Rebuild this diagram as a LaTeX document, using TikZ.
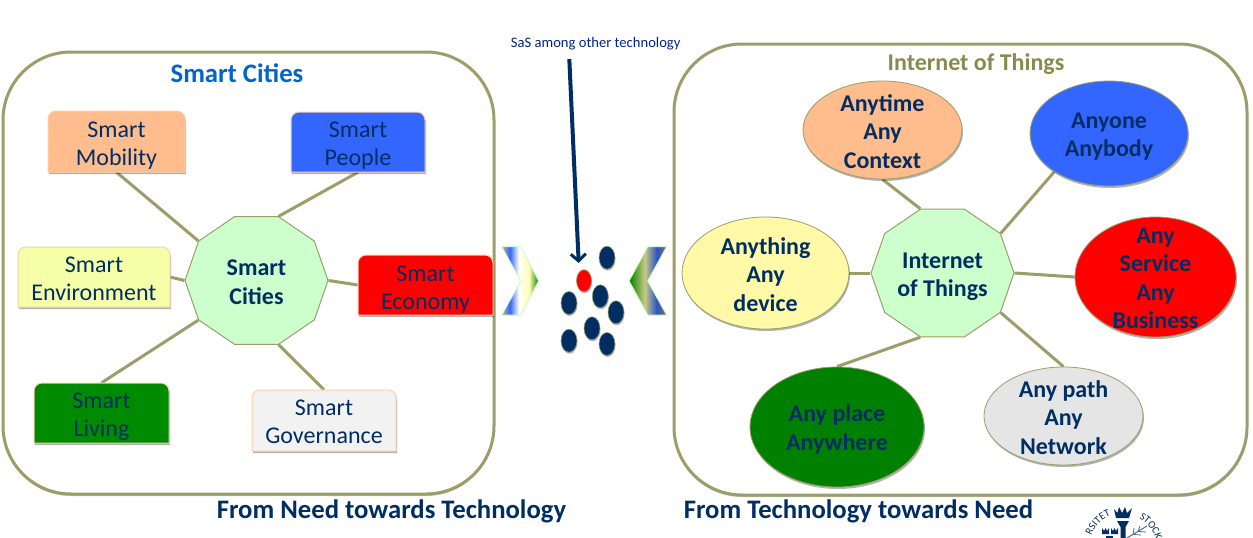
\documentclass[tikz,border=0pt]{standalone}
\usepackage{fontspec}
\setmainfont{Carlito}
\usetikzlibrary{shapes.geometric,shadows,backgrounds,arrows.meta,decorations.text}

\definecolor{navy}{HTML}{002E63}
\definecolor{olive}{HTML}{9A9F6A}
\definecolor{titleolive}{HTML}{8A8A50}
\definecolor{titleblue}{HTML}{0066CC}
\definecolor{hubgreen}{HTML}{CCFFCC}
\definecolor{peach}{HTML}{FFBC8C}
\definecolor{royal}{HTML}{3366FF}
\definecolor{edgepeach}{HTML}{FBCFAE}
\definecolor{paleyellow}{HTML}{F4FFA8}
\definecolor{creamyellow}{HTML}{FFF9A8}

% Gradients of the two chevrons
\pgfdeclarehorizontalshading{chevron_right}{100bp}{color(0bp)=(peach!70!gray); color(25bp)=(peach!70!gray); color(36bp)=(royal); color(48bp)=(white); color(62bp)=(yellow!30); color(75bp)=(green!50!black); color(100bp)=(green!50!black)}
\pgfdeclarehorizontalshading{chevron_left}{100bp}{color(0bp)=(green!50!black); color(25bp)=(green!50!black); color(46bp)=(gray!60!yellow!70); color(62bp)=(royal!80!black); color(75bp)=(peach!60!black); color(100bp)=(peach!60!black)}

\tikzset{
    panel/.style={draw=olive, line width=3pt, fill=white, rounded corners=68pt,
        drop shadow={shadow xshift=0pt, shadow yshift=-2pt, opacity=.25, fill=black}},
    link/.style={draw=olive, line width=3pt},
    boxshape/.style={draw=edgepeach, line width=1pt,
        drop shadow={shadow xshift=1pt, shadow yshift=-2pt, opacity=.3, fill=black}},
    boxtext/.style={inner sep=0pt, align=center, text=navy,
        font=\fontsize{24}{28}\selectfont},
    bubble/.style={ellipse, draw=olive, line width=.8pt, inner sep=0pt,
        drop shadow={shadow xshift=1pt, shadow yshift=-2pt, opacity=.3, fill=black}},
    bubbletext/.style={inner sep=0pt, align=center, text=navy, yshift=-1.5pt,
        font=\fontsize{24}{28.5}\selectfont\bfseries},
    hubshape/.style={regular polygon, regular polygon sides=10, draw=olive, line width=1pt,
        fill=hubgreen, inner sep=0pt, minimum size=143pt, yscale=.9376, transform shape},
    dot/.style={ellipse, draw=olive, line width=.6pt, fill=navy, inner sep=0pt,
        minimum width=16pt, minimum height=23pt,
        drop shadow={shadow xshift=.5pt, shadow yshift=-1.5pt, opacity=.3, fill=black}},
    chevron/.style={draw=hubgreen, line width=1pt},
    heading/.style={inner sep=0pt, font=\fontsize{26.7}{30}\selectfont\bfseries, text=navy},
    crest/.style={fill=navy, draw=none}
}

% name, left, top, right, bottom, colour, text, text shift
\newcommand{\smartbox}[8]{
    \path[boxshape, fill=#6] (#2,#5) [rounded corners=8pt] -- (#2,#3) -- (#4,#3) [sharp corners] -- (#4,#5) -- cycle;
    \node[inner sep=0pt, minimum width={(#4-#2)*1pt}, minimum height={(#5-#3)*1pt},
        label={[boxtext, yshift=-#8pt]center:#7}] (#1) at ({(#2+#4)/2},{(#3+#5)/2}) {};
}

\begin{document}
\begin{tikzpicture}[x=1pt, y=-1pt]
    \useasboundingbox (0,0) rectangle (1253,538);

    % Panels
    \begin{scope}[on background layer]
        \path[panel] (3,52) rectangle (494,494);
        \path[panel] (674,44) rectangle (1247,495);
    \end{scope}

    % Left boxes
    \smartbox{mobility}{48}{111}{185}{172}{peach}{Smart\\Mobility}{4}
    \smartbox{people}{291}{112}{425}{172}{royal}{Smart\\People}{4}
    \smartbox{environment}{18}{247}{170}{307}{paleyellow}{Smart\\Environment}{2}
    \smartbox{economy}{358}{255}{493}{315}{red}{Smart\\Economy}{4.5}
    \smartbox{living}{34}{383}{169}{443}{green!54!black}{Smart\\Living}{4}
    \smartbox{governance}{252}{390}{396}{451}{gray!10}{Smart\\Governance}{1.5}
    \node[hubshape] (cities_hub) at (256.5,280.5) {};
    \node[bubbletext] (cities_text) at (cities_hub) {Smart\\Cities};

    % Right bubbles
    \node[bubble, fill=peach, minimum width=159pt, minimum height=98pt,
        label={[bubbletext]center:Anytime\\Any\\Context}] (anytime) at (882.5,130) {};
    \node[bubble, fill=royal, minimum width=158pt, minimum height=105pt,
        label={[bubbletext, yshift=-1.5pt]center:Anyone\\Anybody}] (anyone) at (1109,133.5) {};
    \node[bubble, fill=creamyellow, minimum width=167pt, minimum height=112pt,
        label={[bubbletext]center:Anything\\Any\\device}] (anything) at (765.5,273) {};
    \node[bubble, fill=red, minimum width=161pt, minimum height=120pt,
        label={[bubbletext]center:Any\\Service\\Any\\Business}] (service) at (1155.5,277) {};
    \node[bubble, fill=green!50!black, minimum width=174pt, minimum height=120pt,
        label={[bubbletext, yshift=-1pt]center:Any place\\Anywhere}] (place) at (837,427) {};
    \node[bubble, fill=gray!20, minimum width=159pt, minimum height=98pt,
        label={[bubbletext]center:Any path\\Any\\Network}] (path) at (1063.5,416) {};
    \node[hubshape] (things_hub) at (942.5,273) {};
    \node[bubbletext, yshift=-2pt] (things_text) at (things_hub) {Internet\\of Things};

    % Links
    \begin{scope}[on background layer]
        \draw[link] (mobility.south) -- (cities_hub.144);
        \draw[link] (people.south) -- (cities_hub.72);
        \draw[link] (environment.east) -- (cities_hub.180);
        \draw[link] (economy.west) -- (cities_hub.0);
        \draw[link] (living.north) -- (cities_hub.216);
        \draw[link] (governance.north) -- (cities_hub.288);
        \draw[link] (anytime.south) -- (things_hub.108);
        \draw[link] (anyone.215) -- (things_hub.36);
        \draw[link] (anything.east) -- (things_hub.180);
        \draw[link] (service.west) -- (things_hub.0);
        \draw[link] (place.north) -- (things_hub.252);
        \draw[link] (path.north) -- (things_hub.324);
    \end{scope}

    % Chevrons
    \path[chevron, shading=chevron_right] (501.7,246.7) -- (520.7,246.7) -- (538.7,281) -- (520.7,315) -- (501.7,315) -- (520.7,281) -- cycle;
    \path[chevron, shading=chevron_left] (629,281) -- (647.7,246.7) -- (666.7,246.7) -- (647.7,281) -- (666.7,315) -- (647.7,315) -- cycle;

    % Dots
    \node[dot, fill=red, minimum width=15pt, minimum height=22pt] (red_dot) at (584,280.7) {};
    \node[dot] (dot_a) at (607,257.7) {};
    \node[dot] (dot_b) at (600.3,296.3) {};
    \node[dot] (dot_c) at (569,303) {};
    \node[dot] (dot_d) at (616,312.3) {};
    \node[dot] (dot_e) at (592,328.3) {};
    \node[dot] (dot_f) at (569,340.7) {};
    \node[dot] (dot_g) at (607,344) {};

    % Arrow
    \node[inner sep=0pt, text=navy!80!blue, font=\fontsize{14.6}{17}\selectfont] (sas_label) at (595.7,43.4) {SaS among other technology};
    \coordinate (sas_start) at (569.3,59);
    \coordinate (sas_tip) at (578.7,263);
    \draw[navy, line width=4pt, -{Straight Barb[length=7pt, width=15pt, line width=3pt]}] (sas_start) -- (sas_tip);

    % Titles
    \node[heading, text=titleblue] (cities_title) at (237,73) {Smart Cities};
    \node[heading, text=titleolive, font=\fontsize{24}{28}\selectfont\bfseries] (things_title) at (976,64) {Internet of Things};
    \node[heading] (need_title) at (391.5,511) {From Need towards Technology};
    \node[heading] (tech_title) at (858.5,511) {From Technology towards Need};

    % Crest, cut by the page edge
    \path[decorate, decoration={text along path, text align=center, text={|\fontsize{10.5}{10.5}\selectfont\color{navy}|RSITET}}]
        (1090.1,539) arc[start angle=194, end angle=255, radius=34];
    \path[decorate, decoration={text along path, text align=center, text={|\fontsize{10.5}{10.5}\selectfont\color{navy}|STOCK}}]
        (1136.3,517) arc[start angle=293, end angle=350, radius=34];
    \path[crest] (1116,518) -- (1114,509) -- (1117.5,513) -- (1119,507) -- (1122,513) -- (1125,507) -- (1127,513) -- (1132,508) -- (1129,518) -- cycle;
    \path[crest] (1117,521) -- (1129,521) -- (1125.5,527) -- (1125.5,538) -- (1120.5,538) -- (1120.5,527) -- cycle;
    \path[crest] (1102,534) -- (1102,528) -- (1104,531) -- (1105.5,528) -- (1107,531) -- (1109,528) -- (1109,534) -- cycle;
    \path[crest] (1111,534) -- (1111,528) -- (1113,531) -- (1114.5,528) -- (1116,531) -- (1118,528) -- (1118,534) -- cycle;
    \path[crest] (1106,538) -- (1106,535.5) -- (1113,535.5) -- (1113,538) -- cycle;
    \draw[navy!70, line width=1pt] (1127,538) -- (1147,526);
    \draw[navy!70, line width=.8pt] (1133,534.5) -- (1134,528) (1138,531.5) -- (1140,526) (1134,534.5) -- (1141,535) (1139,531.5) -- (1146,532);
\end{tikzpicture}
\end{document}
